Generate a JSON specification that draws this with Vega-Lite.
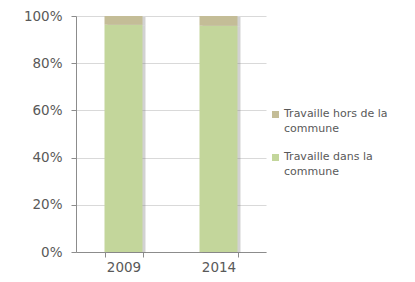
{
  "$schema": "https://vega.github.io/schema/vega-lite/v6.json",
  "width": 190,
  "height": 236,
  "autosize": "none",
  "padding": {"left": 76, "top": 16, "right": 149, "bottom": 30},
  "background": "white",
  "config": {
    "view": {"stroke": null},
    "font": "DejaVu Sans",
    "axis": {"labelColor": "#595959", "labelFont": "DejaVu Sans", "domainColor": "#8c8c8c", "tickColor": "#8c8c8c", "gridColor": "#d9d9d9"}
  },
  "data": {"values": [
    {"year": "2009", "cat": "Travaille dans la commune", "order": 1, "pct": 0.963},
    {"year": "2009", "cat": "Travaille hors de la commune", "order": 2, "pct": 0.037},
    {"year": "2014", "cat": "Travaille dans la commune", "order": 1, "pct": 0.959},
    {"year": "2014", "cat": "Travaille hors de la commune", "order": 2, "pct": 0.041}
  ]},
  "encoding": {
    "x": {"field": "year", "type": "nominal", "scale": {"paddingInner": 0.6, "paddingOuter": 0.3},
      "axis": {"title": null, "labelAngle": 0, "labelFontSize": 13.5, "tickBand": "extent", "tickSize": 5, "labelPadding": 3, "domainColor": "#8c8c8c"}},
    "y": {"field": "pct", "type": "quantitative", "stack": "zero", "scale": {"domain": [0, 1]},
      "axis": {"title": null, "format": "%", "values": [0, 0.2, 0.4, 0.6, 0.8, 1], "labelFontSize": 13.5, "tickSize": 5, "labelPadding": 9, "gridColor": "#d9d9d9"}}
  },
  "layer": [
    {
      "mark": {"type": "bar", "color": "#7f7f7f", "opacity": 0.35, "xOffset": 3, "yOffset": 1},
      "encoding": {"detail": {"field": "cat"}, "order": {"field": "order"}}
    },
    {
      "mark": {"type": "bar"},
      "encoding": {
        "color": {"field": "cat", "type": "nominal",
          "scale": {"domain": ["Travaille hors de la commune", "Travaille dans la commune"], "range": ["#c4bd97", "#c3d69b"]},
          "legend": {"title": null, "orient": "none", "legendX": 194, "legendY": 93, "symbolType": "square", "symbolSize": 49, "symbolStrokeWidth": 0, "labelFontSize": 11, "labelColor": "#595959", "labelOffset": 3, "rowPadding": 16, "labelBaseline": "top",
            "encode": {"labels": {"update": {"dy": {"value": -7}, "lineHeight": {"value": 15}}}},
            "labelExpr": "datum.label == 'Travaille hors de la commune' ? ['Travaille hors de la', 'commune'] : ['Travaille dans la', 'commune']"}},
        "order": {"field": "order"}
      }
    }
  ]
}
